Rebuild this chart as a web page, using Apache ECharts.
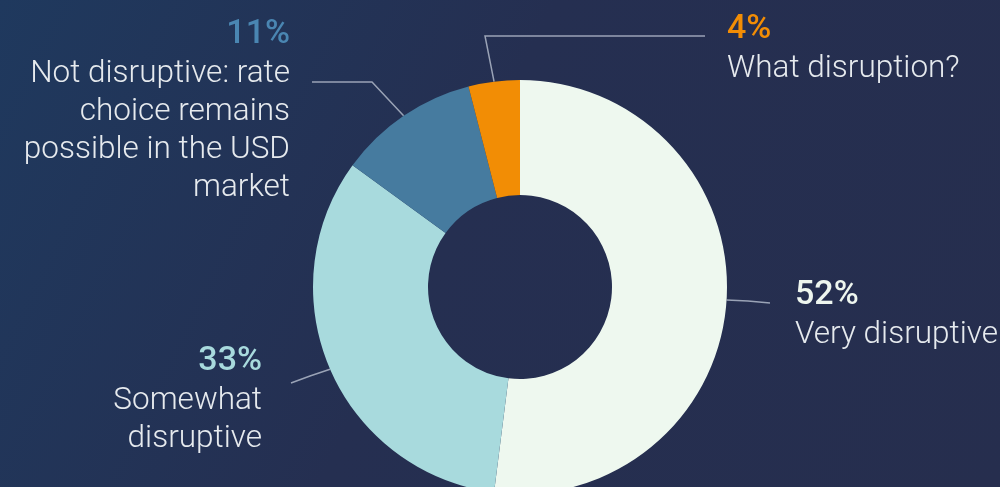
<!DOCTYPE html>
<html>
<head>
<meta charset="utf-8">
<script src="https://cdn.jsdelivr.net/npm/echarts@6/dist/echarts.min.js"></script>
<style>
  html, body { margin: 0; padding: 0; }
  #chart { width: 1000px; height: 487px; }
</style>
</head>
<body>
<div id="chart"></div>
<script>
// Survey answers, in drawing order (clockwise from 12 o'clock)
const categories = ['Very disruptive', 'Somewhat disruptive', 'Not disruptive: rate choice remains possible in the USD market', 'What disruption?'];
const shares = [52, 33, 11, 4];
const wrappedNames = ['Very disruptive', 'Somewhat\ndisruptive', 'Not disruptive: rate\nchoice remains\npossible in the USD\nmarket', 'What disruption?'];
const sliceColors = ['#EEF8EF', '#A8DADD', '#467B9F', '#F28D05'];
const pctColors = ['#EEF6EF', '#A8DADD', '#4A86B2', '#F28D05'];

// Where each label block sits and how its leader line bends
const labelSpots = [
  { x: 795, y: 274, align: 'left',  bend: [748, 301], end: [770, 303] },
  { x: 262, y: 340, align: 'right', bend: [310, 376], end: [291, 383] },
  { x: 290, y: 13,  align: 'right', bend: [372, 82],  end: [312, 82] },
  { x: 727, y: 8,   align: 'left',  bend: [485, 36],  end: [705, 36] }
];

const chart = echarts.init(document.getElementById('chart'), null, { renderer: 'canvas' });

const data = categories.map((name, i) => ({
  name,
  value: shares[i],
  itemStyle: { color: sliceColors[i] },
  label: {
    rich: {
      pct: { fontSize: 34, fontWeight: 500, lineHeight: 42, color: pctColors[i], align: labelSpots[i].align, fontFamily: 'Roboto' },
      nm: { fontSize: 31.5, fontWeight: 300, lineHeight: 38, color: '#E6EAEE', align: labelSpots[i].align, fontFamily: 'Roboto' }
    }
  }
}));

chart.setOption({
  backgroundColor: {
    type: 'linear', x: 0, y: 0, x2: 1, y2: 1,
    colorStops: [
      { offset: 0, color: '#1F395E' },
      { offset: 0.45, color: '#252F51' },
      { offset: 1, color: '#262E4E' }
    ]
  },
  animation: false,
  series: [{
    type: 'pie',
    center: [520, 287],
    radius: [92, 207],
    startAngle: 90,
    clockwise: true,
    avoidLabelOverlap: false,
    data,
    label: {
      show: true,
      position: 'outside',
      formatter: p => '{pct|' + p.value + '%}\n{nm|' + wrappedNames[p.dataIndex] + '}'
    },
    labelLine: {
      show: true,
      length: 20,
      length2: 20,
      lineStyle: { color: '#9AA3B6', width: 1.5 }
    },
    labelLayout: params => {
      const s = labelSpots[params.dataIndex];
      const start = params.labelLinePoints ? params.labelLinePoints[0] : s.bend;
      return {
        x: s.x,
        y: s.y,
        align: s.align,
        verticalAlign: 'top',
        labelLinePoints: [start, s.bend, s.end]
      };
    },
    emphasis: { disabled: true }
  }]
});
</script>
</body>
</html>
